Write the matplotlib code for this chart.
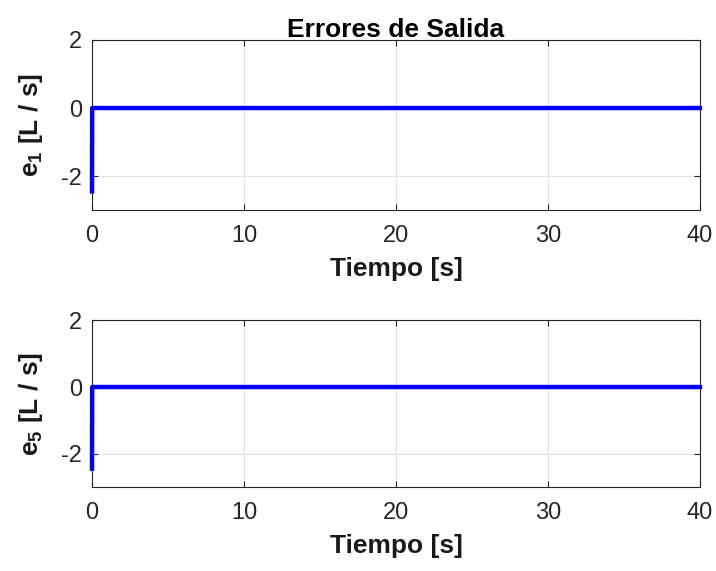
import matplotlib.pyplot as plt

plt.rcParams['font.family'] = ['Liberation Sans', 'DejaVu Sans']
plt.rcParams['axes.unicode_minus'] = False
plt.rcParams['mathtext.fontset'] = 'custom'
plt.rcParams['mathtext.rm'] = 'Liberation Sans'
plt.rcParams['mathtext.bf'] = 'Liberation Sans:bold'

# time [s] and output errors
t = [0, 0.01, 1, 5, 10, 20, 30, 40]
e1 = [-2.45, 0, 0, 0, 0, 0, 0, 0]
e5 = [-2.45, 0, 0, 0, 0, 0, 0, 0]

xticks = [0, 10, 20, 30, 40]
yticks = [-2, 0, 2]

fig = plt.figure(figsize=(7.16, 5.71), dpi=100)
ax1 = fig.add_axes([0.1285, 0.632, 0.849, 0.298])
ax2 = fig.add_axes([0.1285, 0.147, 0.849, 0.292])

for ax, e, lab in [(ax1, e1, r'$\mathbf{e_1}$ [L / s]'), (ax2, e5, r'$\mathbf{e_5}$ [L / s]')]:
    ax.plot(t, e, color='#0000ff', linewidth=3.2, clip_on=False, zorder=3)
    ax.set_xlim(0, 40)
    ax.set_ylim(-3, 2)
    ax.set_xticks(xticks)
    ax.set_yticks(yticks)
    ax.grid(True, color='#e3e3e3', linewidth=0.8)
    ax.tick_params(direction='in', top=True, right=True, labelsize=17,
                   colors='#262626', length=4)
    ax.tick_params(axis='x', pad=11)
    ax.tick_params(axis='y', pad=7)
    for s in ax.spines.values():
        s.set_color('#262626')
        s.set_linewidth(0.8)
    ax.set_xlabel('Tiempo [s]', fontsize=19, fontweight='bold', color='#1a1a1a', labelpad=7)
    ax.set_ylabel(lab, fontsize=19, fontweight='bold', color='#1a1a1a', labelpad=12)

ax1.set_title('Errores de Salida', fontsize=19, fontweight='bold', pad=2)

fig.savefig('out.png', dpi=100)
